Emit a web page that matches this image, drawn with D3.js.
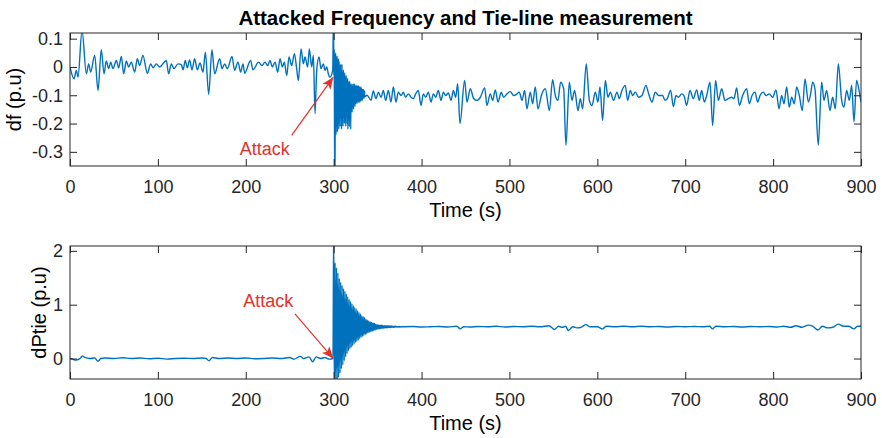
<!DOCTYPE html>
<html>
<head>
<meta charset="utf-8">
<script src="https://cdn.jsdelivr.net/npm/d3@7"></script>
<style>
  body { margin: 0; background: #fff; }
  svg { display: block; }
  text { font-family: "Liberation Sans", Arial, Helvetica, sans-serif; }
</style>
</head>
<body>
<svg id="fig" width="882" height="438"></svg>
<script>
// ---- tick labels ----
const timeTicks = [0, 100, 200, 300, 400, 500, 600, 700, 800, 900];
const dfTicks = [-0.3, -0.2, -0.1, 0, 0.1];
const dfTickLabels = ["-0.3", "-0.2", "-0.1", "0", "0.1"];
const tieTicks = [0, 1, 2];

// ---- frequency deviation (turning points, s / p.u.) ----
const dfTimeA = [0, 4.6, 7.2, 9.1, 13.7, 18.6, 21.2, 23.5, 28.1, 31.9, 35.6, 38.7, 41.3, 44.0, 46.3, 48.9,
  52.7, 55.4, 58.4, 61.1, 64.1, 66.7, 69.8, 73.6, 76.6, 79.3, 83.0, 88.0, 91.8, 94.4, 98.2, 102.0,
  109.6, 112.2, 115.3, 118.3, 122.9, 126.7, 128.6, 131.2, 133.5, 136.1, 138.8, 141.8, 144.9, 147.9,
  151.3, 154.0, 157.8, 161.5, 164.6, 170.3, 172.9, 176.0, 179.0, 184.3, 187.3, 191.1, 194.2, 196.8,
  198.7, 205.5, 208.2, 214.6, 218.4,
  221.9, 224.9, 227.6, 230.2, 233.3, 236.3, 239.0, 241.6, 243.9, 246.6, 249.2, 252.2, 255.3, 257.9,
  259.8, 262.9, 265.5, 267.4, 270.4, 272.3, 275.0, 276.9, 278.8, 280.7, 283.3, 285.6, 288.3, 290.2,
  292.1, 293.9, 295.8, 298.9];
const dfValueA = [0.0, -0.042, -0.012, -0.036, 0.13, -0.024, 0.011, -0.018, 0.041, -0.083, 0.061, -0.024, 0.021, -0.006, 0.017, -0.006,
  0.023, -0.003, 0.037, -0.024, 0.021, 0.0, 0.017, -0.018, 0.029, 0.005, 0.041, -0.022, 0.011, -0.003, 0.011, 0.0,
  0.023, -0.024, 0.011, -0.006, 0.011, 0.008, -0.010, 0.023, -0.003, 0.025, -0.010, 0.029, -0.010, 0.014,
  -0.018, 0.052, -0.097, 0.061, -0.024, 0.029, -0.006, 0.011, -0.006, 0.037, -0.012, 0.017, -0.018, 0.011,
  -0.022, 0.023, -0.010, 0.017, 0.005,
  0.017, 0.005, 0.023, 0.0, 0.017, -0.018, 0.029, 0.0, 0.017, -0.030, 0.035, 0.005, 0.047, -0.006,
  -0.048, 0.064, 0.011, 0.035, 0.0, 0.064, 0.0, 0.041, -0.165, -0.012, 0.035, -0.006, 0.011, -0.012,
  0.0, -0.024, -0.036, -0.012];

// attack transient, sampled every 0.4 s from 299.8 s
const dfBurstStart = 299.8, dfBurstStep = 0.4;
const dfBurstValue = [0.18, -0.03, 0.06, -0.25, -0.45, -0.12, 0.05, -0.24, 0.03, -0.21, 0.04, -0.23, 0.02, -0.20, 0.03, -0.22,
  0.02, -0.19, 0.00, -0.21, 0.01, -0.18, -0.01, -0.22, 0.01, -0.19, -0.02, -0.21, -0.01, -0.18, -0.03, -0.20,
  -0.02, -0.19, -0.04, -0.21, -0.03, -0.17, -0.05, -0.20, -0.04, -0.22, -0.05, -0.18, -0.06, -0.21, -0.05, -0.17,
  -0.06, -0.22, -0.07, -0.15, -0.06, -0.16, -0.07, -0.14, -0.06, -0.15, -0.07, -0.13, -0.06, -0.14, -0.065, -0.13,
  -0.07, -0.125, -0.065, -0.13, -0.07, -0.12, -0.065, -0.125, -0.07, -0.12, -0.07, -0.125, -0.075, -0.12, -0.07, -0.115,
  -0.075, -0.12, -0.08, -0.115, -0.08, -0.11, -0.08, -0.11, -0.085, -0.105];

const dfTimeB = [338.0, 342.5, 345.1, 348.2, 350.8, 353.9, 356.5, 359.2, 362.2, 365.2, 367.9, 370.9, 373.6, 376.6,
  379.3, 381.9, 385.0, 388.0, 390.7, 393.3, 396.3, 399.4, 402.0, 404.7, 407.7, 410.8, 413.4, 416.1, 419.1,
  422.1, 424.8, 427.4, 430.5, 433.5, 436.2, 438.8, 441.1, 443.7,
  449.0, 451.7, 455.5, 459.3, 463.1, 466.9, 471.8, 474.4, 478.2, 480.9, 483.9, 487.0, 490.7, 493.4, 497.2,
  501.0, 504.8, 508.6, 511.2, 514.3, 517.3, 519.9, 523.7, 526.4, 529.4, 532.5, 536.3, 540.8, 545.4, 549.1,
  552.2, 555.2, 558.2, 561.7, 564.3, 568.1, 571.1, 574.2, 578.0, 580.6, 583.3, 587.4, 590.9, 593.9, 597.7,
  600.7, 603.0, 606.0, 609.1, 612.1, 614.8, 618.5, 622.3, 625.0, 628.0, 631.8, 634.5, 637.5, 640.2, 643.2,
  647.0, 650.8, 655.3, 658.4, 662.2, 665.9, 669.7,
  674.3, 677.0, 679.6, 683.4, 686.5, 689.5, 692.2, 696.0, 698.6, 701.6, 705.4, 709.2, 713.0, 716.0, 718.7,
  721.7, 724.4, 728.2, 731.2, 734.6, 737.7, 741.5, 745.2, 749.0, 752.8, 755.5, 758.5, 761.6, 765.3, 769.9,
  772.9, 776.0, 779.4, 782.4, 785.1, 788.9, 791.9, 795.7, 799.5, 803.3, 806.7, 809.7, 812.4, 815.4, 818.4,
  821.1, 824.1, 826.8, 829.8, 833.2, 836.3, 840.1, 842.7, 845.0, 847.6, 851.4, 855.2, 857.9, 860.9, 864.7,
  867.7, 870.8, 874.2, 878.0, 880.6, 883.7, 886.7, 889.4, 892.0, 895.0, 898.1, 900.0];
const dfValueB = [-0.100, -0.118, -0.085, -0.112, -0.089, -0.107, -0.083, -0.118, -0.083, -0.124, -0.071, -0.124, -0.089, -0.101,
  -0.089, -0.107, -0.095, -0.107, -0.112, -0.095, -0.083, -0.136, -0.095, -0.107, -0.089, -0.124, -0.095, -0.107, -0.083,
  -0.118, -0.089, -0.101, -0.092, -0.118, -0.083, -0.107, -0.059, -0.200,
  -0.048, -0.124, -0.077, -0.112, -0.118, -0.107, -0.074, -0.136, -0.095, -0.118, -0.081, -0.124, -0.089, -0.107, -0.095,
  -0.087, -0.101, -0.095, -0.089, -0.118, -0.083, -0.148, -0.089, -0.130, -0.071, -0.148, -0.101, -0.077, -0.154, -0.045,
  -0.101, -0.118, -0.054, -0.077, -0.277, -0.054, -0.118, -0.083, -0.154, -0.112, -0.148, 0.011, -0.118, -0.136, -0.089,
  -0.124, -0.071, -0.189, -0.048, -0.107, -0.089, -0.118, -0.089, -0.112, -0.083, -0.065, -0.118, -0.083, -0.101, -0.089,
  -0.107, -0.101, -0.065, -0.095, -0.124, -0.089, -0.101,
  -0.101, -0.118, -0.112, -0.083, -0.140, -0.101, -0.107, -0.095, -0.101, -0.136, -0.083, -0.112, -0.081, -0.118, -0.083,
  -0.124, -0.101, -0.054, -0.207, -0.048, -0.118, -0.077, -0.118, -0.112, -0.107, -0.112, -0.074, -0.136, -0.101, -0.077,
  -0.130, -0.101, -0.089, -0.124, -0.101, -0.089, -0.101, -0.095, -0.107, -0.081, -0.148, -0.101, -0.130, -0.071, -0.142,
  -0.107, -0.130, -0.071, -0.101, -0.154, -0.042, -0.124, -0.095, -0.054, -0.077, -0.277, -0.054, -0.118, -0.083, -0.154,
  -0.107, -0.148, 0.011, -0.118, -0.142, -0.083, -0.118, -0.065, -0.194, -0.048, -0.089, -0.124];

// ---- tie-line power deviation (s / p.u.) ----
const tieTimeA = [0, 3, 6, 9, 12, 14, 17, 22, 28, 32, 35, 40, 50, 60, 70, 80, 90, 100, 110, 120, 130, 140, 150,
  155, 158, 162, 170, 180, 190, 200, 210, 220, 230, 240, 250, 255, 262, 266, 272, 276, 280, 285, 290, 295, 299.2];
const tieValueA = [0.0, -0.01, -0.03, -0.02, 0.01, 0.05, 0.02, 0.0, 0.01, -0.05, 0.0, 0.01, 0.0, 0.015, 0.0, 0.01, -0.005,
  0.005, -0.01, 0.0, 0.005, 0.0, 0.01, 0.0, -0.04, 0.02, 0.0, 0.01, 0.0, 0.01, -0.005, 0.0, 0.01, 0.0, 0.02, -0.01,
  0.04, 0.0, 0.03, -0.06, 0.03, 0.0, 0.02, -0.01, 0.0];

// attack transient, sampled every 0.8 s from 300 s
const tieBurstStart = 300, tieBurstStep = 0.8;
const tieBurstValue = [2.4, -0.6, 1.78, -0.48, 1.69, -0.42, 1.59, -0.35, 1.49, -0.27, 1.42, -0.19, 1.36, -0.12, 1.30, -0.04,
  1.25, 0.03, 1.20, 0.09, 1.15, 0.14, 1.10, 0.18, 1.06, 0.21, 1.02, 0.24, 0.98, 0.27, 0.95, 0.30, 0.92, 0.32, 0.89, 0.34,
  0.86, 0.37, 0.83, 0.39, 0.80, 0.41, 0.78, 0.43, 0.76, 0.45, 0.73, 0.46, 0.71, 0.48, 0.70, 0.49, 0.68, 0.50, 0.67, 0.51,
  0.66, 0.52, 0.65, 0.53, 0.64, 0.54, 0.63, 0.545, 0.625, 0.55, 0.62, 0.555, 0.618, 0.56, 0.615, 0.565, 0.612, 0.568,
  0.61, 0.57, 0.608, 0.573, 0.606, 0.575, 0.605, 0.577, 0.603, 0.579, 0.602, 0.58, 0.60, 0.582, 0.599, 0.584, 0.598,
  0.585, 0.597, 0.586, 0.596, 0.587, 0.595, 0.588, 0.594, 0.589];

const tieTimeB = [380, 390, 400, 410, 420, 430, 440, 444, 448, 455, 465, 475, 485, 495, 505, 515, 525, 535, 545, 551,
  556, 560, 564, 567, 572, 578, 582, 587, 592, 600, 606, 610, 620, 630, 640, 650, 660, 670, 680, 690, 700, 710, 720,
  728, 731, 735, 745, 755, 765, 775, 785, 795, 805, 812, 820, 826, 833, 840, 845, 851, 856, 862, 868, 874, 880, 886,
  892, 896, 900];
const tieValueB = [0.59, 0.595, 0.585, 0.59, 0.595, 0.585, 0.60, 0.55, 0.59, 0.585, 0.595, 0.59, 0.60, 0.585, 0.595,
  0.59, 0.60, 0.59, 0.61, 0.54, 0.60, 0.58, 0.60, 0.52, 0.59, 0.57, 0.585, 0.63, 0.59, 0.59, 0.55, 0.60, 0.59, 0.60,
  0.59, 0.60, 0.59, 0.595, 0.585, 0.595, 0.59, 0.595, 0.59, 0.60, 0.55, 0.60, 0.59, 0.595, 0.585, 0.595, 0.59, 0.595,
  0.585, 0.60, 0.58, 0.61, 0.58, 0.62, 0.60, 0.53, 0.60, 0.57, 0.58, 0.64, 0.60, 0.60, 0.55, 0.60, 0.60];

// ---- build point lists ----
function pairs(ts, vs) { return ts.map((t, i) => [t, vs[i]]); }
function sampled(start, step, vs) { return vs.map((v, i) => [start + step * i, v]); }

const dfSeries = [].concat(
  pairs(dfTimeA, dfValueA),
  sampled(dfBurstStart, dfBurstStep, dfBurstValue),
  pairs(dfTimeB, dfValueB));
const tieSeries = [].concat(
  pairs(tieTimeA, tieValueA),
  sampled(tieBurstStart, tieBurstStep, tieBurstValue),
  pairs(tieTimeB, tieValueB));

// ---- layout ----
const svg = d3.select("#fig");
const axisColor = "#262626";
const lineColor = "#0072bd";
const noteColor = "#e3312a";
const left = 70, right = 861;
const panels = [
  { id: "df", top: 33, bottom: 166, domain: [-0.35, 0.12], ticks: dfTicks, fmt: (d, i) => dfTickLabels[i],
    data: dfSeries, ylabel: "df (p.u)", ylabelX: 21,
    note: { text: [221.5, -0.31], tail: [252.2, -0.242], tip: [299.6, -0.036] } },
  { id: "tie", top: 246, bottom: 379, domain: [-0.38, 2.09], ticks: tieTicks, fmt: d => String(d),
    data: tieSeries, ylabel: "dPtie (p.u)", ylabelX: 46,
    note: { text: [225.7, 0.95], tail: [256, 0.83], tip: [299.6, 0.0] } }
];

svg.append("text")
  .attr("x", (left + right) / 2).attr("y", 25)
  .attr("text-anchor", "middle")
  .attr("font-size", 20.5).attr("font-weight", "bold").attr("fill", "#000")
  .text("Attacked Frequency and Tie-line measurement");

const defs = svg.append("defs");
defs.append("marker")
  .attr("id", "head").attr("viewBox", "0 0 12 10")
  .attr("refX", 12).attr("refY", 5)
  .attr("markerWidth", 12).attr("markerHeight", 10)
  .attr("markerUnits", "userSpaceOnUse").attr("orient", "auto")
  .append("path").attr("d", "M0,0 L12,5 L0,10 L3,5 Z").attr("fill", noteColor);

const x0 = d3.scaleLinear().domain([0, 900]);

panels.forEach(p => {
  const x = x0.copy().range([left, right]);
  const y = d3.scaleLinear().domain(p.domain).range([p.bottom, p.top]);
  const g = svg.append("g");

  defs.append("clipPath").attr("id", "clip-" + p.id)
    .append("rect").attr("x", left).attr("y", p.top)
    .attr("width", right - left).attr("height", p.bottom - p.top);

  // data line
  const line = d3.line().x(d => x(d[0])).y(d => y(d[1])).curve(d3.curveMonotoneX);
  g.append("path")
    .datum(p.data)
    .attr("clip-path", "url(#clip-" + p.id + ")")
    .attr("d", line)
    .attr("fill", "none").attr("stroke", lineColor)
    .attr("stroke-width", 1.4).attr("stroke-linejoin", "round");

  // axes, ticks pointing inward on all four sides
  const style = sel => {
    sel.select(".domain").remove();
    sel.selectAll(".tick line").attr("stroke", axisColor);
    sel.selectAll("text").attr("fill", axisColor).attr("font-size", 18)
      .attr("font-family", '"Liberation Sans", Arial, sans-serif');
  };
  g.append("g").attr("transform", `translate(0,${p.bottom})`)
    .call(d3.axisBottom(x).tickValues(timeTicks).tickSize(-7).tickPadding(14).tickFormat(d3.format("d")))
    .call(style);
  g.append("g").attr("transform", `translate(0,${p.top})`)
    .call(d3.axisTop(x).tickValues(timeTicks).tickSize(-7).tickFormat(""))
    .call(style);
  g.append("g").attr("transform", `translate(${left},0)`)
    .call(d3.axisLeft(y).tickValues(p.ticks).tickSize(-7).tickPadding(7).tickFormat(p.fmt))
    .call(style);
  g.append("g").attr("transform", `translate(${right},0)`)
    .call(d3.axisRight(y).tickValues(p.ticks).tickSize(-7).tickFormat(""))
    .call(style);

  g.append("rect")
    .attr("x", left).attr("y", p.top)
    .attr("width", right - left).attr("height", p.bottom - p.top)
    .attr("fill", "none").attr("stroke", axisColor).attr("stroke-width", 1);

  // axis titles
  g.append("text")
    .attr("x", (left + right) / 2).attr("y", p.bottom + 51)
    .attr("text-anchor", "middle").attr("font-size", 20).attr("fill", "#000")
    .text("Time (s)");
  g.append("text")
    .attr("transform", `translate(${p.ylabelX},${(p.top + p.bottom) / 2}) rotate(-90)`)
    .attr("text-anchor", "middle").attr("font-size", 20).attr("fill", "#000")
    .text(p.ylabel);

  // attack annotation
  const n = p.note;
  g.append("line")
    .attr("x1", x(n.tail[0])).attr("y1", y(n.tail[1]))
    .attr("x2", x(n.tip[0])).attr("y2", y(n.tip[1]))
    .attr("stroke", noteColor).attr("stroke-width", 1.2)
    .attr("marker-end", "url(#head)");
  g.append("text")
    .attr("x", x(n.text[0])).attr("y", y(n.text[1]))
    .attr("text-anchor", "middle").attr("font-size", 18).attr("fill", noteColor)
    .text("Attack");
});
</script>
</body>
</html>
